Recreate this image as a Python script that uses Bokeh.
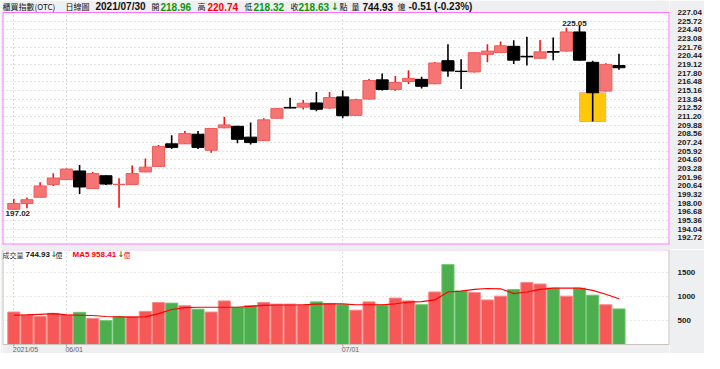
from bokeh.plotting import figure
from bokeh.layouts import column
from bokeh.models import (ColumnDataSource, FixedTicker, Grid, Label, Range1d,
                          PrintfTickFormatter, BoxAnnotation, Span)
from bokeh.embed import file_html
from bokeh.resources import INLINE

# ---------------- data ----------------
opens = [197.07, 197.95, 198.91, 200.86, 201.59, 202.91, 200.22, 202.18, 200.85, 200.86,
         202.76, 203.58, 207.04, 207.04, 208.50, 206.06, 209.48, 209.71, 208.06, 207.52,
         210.94, 212.59, 212.63, 213.27, 212.49, 214.19, 211.38, 213.86, 216.78, 215.32,
         216.53, 216.86, 216.19, 219.70, 218.10, 217.99, 220.66, 220.95, 221.89, 220.37,
         220.08, 221.10, 221.16, 224.08, 219.45, 215.07, 218.96]
highs = [198.68, 198.86, 201.20, 202.56, 203.30, 203.83, 202.76, 202.20, 201.78, 203.73,
         204.81, 206.85, 208.35, 208.98, 208.98, 209.40, 211.17, 209.80, 210.30, 210.94,
         212.45, 214.05, 213.71, 214.92, 214.92, 215.17, 213.90, 216.92, 217.74, 217.36,
         218.24, 217.26, 219.49, 222.22, 219.93, 221.00, 222.22, 222.62, 222.81, 223.35,
         222.85, 223.24, 224.70, 225.05, 219.70, 219.30, 220.74]
lows = [197.02, 197.22, 198.90, 200.62, 201.55, 199.40, 200.20, 200.76, 197.30, 200.80,
        202.70, 203.50, 206.27, 207.00, 206.27, 205.68, 209.40, 207.14, 206.94, 207.50,
        210.90, 212.45, 212.25, 212.00, 212.40, 210.94, 211.30, 213.80, 215.17, 215.11,
        216.14, 215.46, 216.10, 217.26, 215.40, 217.90, 219.45, 220.90, 219.20, 218.97,
        220.00, 219.78, 221.10, 219.70, 210.44, 215.00, 218.32]
closes = [197.95, 198.53, 200.62, 201.83, 203.20, 200.47, 202.51, 200.91, 200.88, 202.51,
          203.49, 206.65, 206.50, 208.60, 206.50, 209.38, 209.92, 207.73, 207.23, 210.69,
          212.40, 212.49, 213.22, 212.30, 214.09, 211.32, 213.76, 216.68, 215.32, 216.38,
          217.01, 215.80, 219.35, 218.13, 218.05, 220.91, 221.16, 221.97, 219.78, 220.28,
          221.05, 221.00, 224.08, 219.78, 214.82, 219.14, 218.63]
volumes = [680, 620, 587, 653, 620, 673, 547, 500, 580, 580,
           693, 880, 867, 813, 740, 680, 913, 780, 813, 880,
           847, 847, 833, 893, 860, 833, 720, 893, 827, 973,
           913, 833, 1100, 1673, 1120, 1087, 933, 1013, 1153, 1300,
           1267, 1180, 1013, 1180, 1033, 833, 744.93]
ma5 = [613, 620, 633, 647, 620, 613, 607, 587, 580, 573,
       580, 647, 733, 773, 780, 780, 780, 780, 800, 820,
       827, 827, 833, 847, 853, 853, 833, 833, 833, 853,
       887, 900, 933, 1100, 1120, 1153, 1173, 1167, 1067, 1100,
       1153, 1180, 1180, 1180, 1133, 1053, 958.41]
price_ticks = [192.72, 194.04, 195.36, 196.68, 198.00, 199.32, 200.64, 201.96, 203.28,
               204.60, 205.92, 207.24, 208.56, 209.88, 211.20, 212.52, 213.84, 215.16,
               216.48, 217.80, 219.12, 220.44, 221.76, 223.08, 224.40, 225.72, 227.04]
vol_ticks = [500, 1000, 1500]
date_tick_idx = [0, 4, 25]
date_tick_labels = ["2021/05", "06/01", "07/01"]
highlight_idx = 44
title_name = "櫃買指數(OTC)"
title_kind = "日線圖"
last_date = "2021/07/30"

# ---------------- derived ----------------
N = len(closes)
xs = list(range(N))
candle_up = [c >= o for o, c in zip(opens, closes)]
vol_up = [True] + [closes[i] >= closes[i - 1] for i in range(1, N)]

UP_BODY, UP_EDGE, UP_WICK, DN = "#F57575", "#EE5A5A", "#FF1010", "#000000"
VOL_RED, VOL_RED_E, VOL_GREEN, VOL_GREEN_E = "#F65757", "#FA8A8A", "#4DAE4D", "#6CC66C"
GREEN_TXT, RED_TXT = "#0A960A", "#FF0000"
MAG = "#FF70FF"
FONT = "Liberation Sans"
CJK = "Noto Sans CJK TC"
BG_OUT = "#EEEFF0"

src = ColumnDataSource(dict(
    x=xs, high=highs, low=lows,
    top=[max(o, c) for o, c in zip(opens, closes)],
    bottom=[min(o, c) for o, c in zip(opens, closes)],
    wick=[UP_WICK if u else DN for u in candle_up],
    fill=[UP_BODY if u else DN for u in candle_up],
    edge=[UP_EDGE if u else DN for u in candle_up],
    vol=volumes,
    vcol=[VOL_RED if u else VOL_GREEN for u in vol_up],
    vedge=[VOL_RED_E if u else VOL_GREEN_E for u in vol_up],
    ma=ma5,
))

W = 704
FRAME_W = 674
RIGHT_B = W - FRAME_W - 2
HEAD = 12            # header band (px) inside price frame
P_PANEL = 232        # price panel height (px)
P_GAP = 5
V_PANEL = 95
V_BAND = 9

P_LO, P_HI = 191.71, price_ticks[-1]
ppu = P_PANEL / (P_HI - P_LO)
V_HI = 1990.0
vpu = V_PANEL / V_HI

xr = Range1d(-0.86, N - 1 + 3.84)


def vgrid(fig):
    fig.center = [r for r in fig.center if not (isinstance(r, Grid) and r.dimension == 0)]
    fig.add_layout(Grid(dimension=0, ticker=FixedTicker(ticks=date_tick_idx),
                        grid_line_color="#BDBDBD", grid_line_dash="1 3"))


def style_yaxis(fig, ticks):
    fig.yaxis.ticker = FixedTicker(ticks=ticks)
    fig.yaxis.axis_line_color = None
    fig.yaxis.major_tick_line_color = None
    fig.yaxis.minor_tick_line_color = None
    fig.yaxis.major_label_standoff = 2
    fig.yaxis.major_label_text_font = FONT
    fig.yaxis.major_label_text_font_size = "8px"
    fig.yaxis.major_label_text_font_style = "bold"
    fig.yaxis.major_label_text_color = "#1A1A1A"


# ---------------- price panel ----------------
p_top = P_HI + HEAD / ppu
p = figure(width=W, height=HEAD + P_PANEL + P_GAP, x_range=xr, y_range=Range1d(P_LO, p_top),
           output_backend="svg", toolbar_location=None, y_axis_location="right",
           x_axis_location=None, min_border_left=2, min_border_right=RIGHT_B,
           min_border_top=0, min_border_bottom=P_GAP,
           background_fill_color="white", border_fill_color=BG_OUT,
           outline_line_color=None)
vgrid(p)
style_yaxis(p, price_ticks)
p.yaxis.formatter = PrintfTickFormatter(format="%.2f")
p.ygrid.grid_line_color = "#C4C4C4"
p.ygrid.grid_line_dash = "1 3"

hi = highlight_idx
p.quad(left=[hi - 0.99], right=[hi + 0.99], top=[min(opens[hi], closes[hi])], bottom=[lows[hi]],
       fill_color="#FFC80A", line_color="#F4A0A0", line_width=1)
p.segment(x0="x", y0="high", x1="x", y1="low", line_color="wick", line_width=1.6, source=src)
p.vbar(x="x", width=0.92, top="top", bottom="bottom", fill_color="fill",
       line_color="edge", line_width=1, source=src)

# frame lines of the price panel
p.segment(x0=[xr.start, xr.end], y0=[P_LO, P_LO], x1=[xr.start, xr.end], y1=[P_HI, P_HI],
          line_color=MAG, line_width=2)
p.add_layout(BoxAnnotation(bottom=P_HI, top=p_top, fill_color=BG_OUT, fill_alpha=1,
                           line_color=None))
p.add_layout(Span(location=P_HI, dimension="width", line_color=MAG, line_width=1))
p.add_layout(Span(location=P_LO, dimension="width", line_color=MAG, line_width=2))

i_lo = min(range(N), key=lambda i: lows[i])
i_hi = max(range(N), key=lambda i: highs[i])
p.add_layout(Label(x=i_lo, y=lows[i_lo], x_offset=4, y_offset=-1, text=f"{lows[i_lo]:.2f}",
                   text_align="center", text_baseline="top", text_font=FONT,
                   text_font_size="8px", text_font_style="bold", text_color="#222222"))
p.add_layout(Label(x=i_hi, y=highs[i_hi], x_offset=-5, y_offset=0, text=f"{highs[i_hi]:.2f}",
                   text_align="center", text_baseline="bottom", text_font=FONT,
                   text_font_size="8px", text_font_style="bold", text_color="#222222"))

chg = closes[-1] - closes[-2]
pct = chg / closes[-2] * 100
arrow = "↓" if chg < 0 else "↑"
header = [
    (2, title_name, "#111111", "normal", "8px", CJK),
    (65, title_kind, "#111111", "normal", "8px", CJK),
    (95, last_date, "#111111", "bold", "10px", FONT),
    (151, "開", "#111111", "normal", "8px", CJK),
    (160, f"{opens[-1]:.2f}", GREEN_TXT, "bold", "10px", FONT),
    (197, "高", "#111111", "normal", "8px", CJK),
    (207, f"{highs[-1]:.2f}", RED_TXT, "bold", "10px", FONT),
    (244, "低", "#111111", "normal", "8px", CJK),
    (253, f"{lows[-1]:.2f}", GREEN_TXT, "bold", "10px", FONT),
    (290, "收", "#111111", "normal", "8px", CJK),
    (298, f"{closes[-1]:.2f}", GREEN_TXT, "bold", "10px", FONT),
    (330, arrow, GREEN_TXT, "bold", "10px", "DejaVu Sans"),
    (339, "點", "#111111", "normal", "8px", CJK),
    (351, "量", "#111111", "normal", "8px", CJK),
    (362, f"{volumes[-1]:.2f}", "#111111", "bold", "10px", FONT),
    (397, "億", "#111111", "normal", "8px", CJK),
    (408, f"{chg:.2f} ({pct:.2f}%)", "#111111", "bold", "10px", FONT),
]
for rx, txt, col, sty, size, fnt in header:
    p.add_layout(Label(x=rx - 2, y=P_PANEL + HEAD - 6, x_units="screen", y_units="screen",
                       text=txt, text_color=col, text_font_style=sty, text_font_size=size,
                       text_font=fnt, text_baseline="middle", text_align="left"))

# ---------------- volume panel ----------------
v_lo = -V_BAND / vpu
v = figure(width=W, height=V_PANEL + V_BAND, x_range=xr, y_range=Range1d(v_lo, V_HI),
           output_backend="svg", toolbar_location=None, y_axis_location="right",
           x_axis_location=None, min_border_left=2, min_border_right=RIGHT_B,
           min_border_top=0, min_border_bottom=0,
           background_fill_color="white", border_fill_color=BG_OUT,
           outline_line_color=None)
vgrid(v)
style_yaxis(v, vol_ticks)
v.ygrid.grid_line_color = "#D8CFC0"
v.ygrid.grid_line_dash = "1 3"

v.vbar(x="x", width=0.92, top="vol", bottom=0, fill_color="vcol", line_color="vedge",
       line_width=1, source=src)
v.line(x="x", y="ma", line_color="#FF0000", line_width=1.2, source=src)

VB = "#C8C4BC"
v.segment(x0=[xr.start, xr.end], y0=[0, 0], x1=[xr.start, xr.end], y1=[V_HI, V_HI],
          line_color=VB, line_width=2)
v.add_layout(BoxAnnotation(bottom=v_lo, top=0, fill_color=BG_OUT, fill_alpha=1, line_color=None))
v.add_layout(Span(location=0, dimension="width", line_color=VB, line_width=1))
v.add_layout(Span(location=V_HI, dimension="width", line_color="#F4C8F4", line_width=2))
v.segment(x0=date_tick_idx, y0=[0] * len(date_tick_idx), x1=date_tick_idx,
          y1=[-2 / vpu] * len(date_tick_idx), line_color="#999999", line_width=1, level="overlay")

v_arrow = "↓" if volumes[-1] < volumes[-2] else "↑"
m_arrow = "↓" if ma5[-1] < ma5[-2] else "↑"
vhead = [
    (2, "成交量", "#333333", "normal", "7px", CJK),
    (25, f"{volumes[-1]:.2f}", "#111111", "bold", "8px", FONT),
    (50, v_arrow, GREEN_TXT, "bold", "8px", "DejaVu Sans"),
    (55, "億", "#111111", "normal", "7px", CJK),
    (72, f"MA5 {ma5[-1]:.2f}", RED_TXT, "bold", "8px", FONT),
    (117, m_arrow, GREEN_TXT, "bold", "8px", "DejaVu Sans"),
    (123, "億", RED_TXT, "normal", "7px", CJK),
]
for rx, txt, col, sty, size, fnt in vhead:
    v.add_layout(Label(x=rx - 2, y=V_BAND + V_PANEL - 5, x_units="screen", y_units="screen",
                       text=txt, text_color=col, text_font_style=sty, text_font_size=size,
                       text_font=fnt, text_baseline="middle", text_align="left"))

for ti, tl in zip(date_tick_idx, date_tick_labels):
    v.add_layout(Label(x=ti, y=0, y_offset=-1, text=tl, text_font=FONT,
                       text_font_size="7px", text_color="#666666", text_baseline="top",
                       text_align="left", x_offset=-1))

layout = column(p, v)
open("out.html", "w").write(file_html(layout, INLINE))
